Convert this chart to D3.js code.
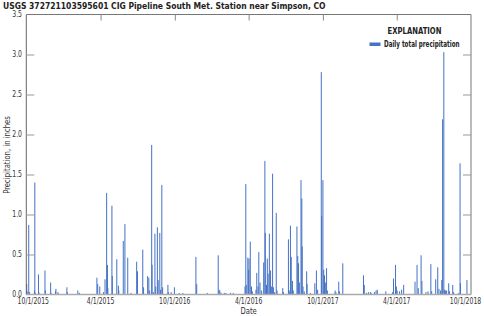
<!DOCTYPE html>
<html>
<head>
<meta charset="utf-8">
<script src="https://cdn.jsdelivr.net/npm/d3@7"></script>
<style>
  body { margin: 0; background: #fff; }
  svg { display: block; font-family: "Liberation Sans Narrow", "DejaVu Sans Condensed", "Arial Narrow", sans-serif; }
</style>
</head>
<body>
<svg id="chart" width="484" height="316"></svg>
<script>
// start of record, bars are placed by day offset from it
var startDate = new Date(2015, 9, 1);
var endDate = new Date(2018, 9, 1);

var dayOffset = [
  1, 2, 6, 8, 20, 21, 22, 30, 31, 46, 47, 60, 61, 72, 73, 78, 100, 101, 127, 131,
  174, 176, 181, 190, 194, 198, 200, 201, 211, 212, 223, 227, 228, 239, 243, 250, 258,
  272, 274, 287, 289, 299, 302, 304, 309, 310, 313, 317, 319, 323, 325, 329, 331, 334,
  336, 349, 350, 357, 365, 377, 386, 418, 420, 446, 473, 475, 477, 480, 488, 492, 503,
  510, 539, 541, 542, 546, 548, 549, 552, 555, 557, 566, 568, 571, 573, 576, 580, 585,
  588, 589, 592, 594, 596, 599, 602, 604, 607, 609, 612, 616, 618, 632, 634, 646, 648,
  651, 653, 656, 658, 667, 669, 671, 673, 677, 679, 680, 682, 685, 691, 692, 700, 711,
  715, 718, 727, 728, 731, 733, 735, 737, 740, 742, 761, 763, 770, 772, 780, 831, 833,
  838, 843, 848, 850, 858, 862, 865, 886, 903, 905, 910, 912, 914, 920, 925, 930, 958,
  963, 966, 973, 975, 985, 990, 997, 999, 1009, 1014, 1017, 1021, 1024, 1026, 1029, 1031,
  1033, 1036, 1041, 1043, 1051, 1053, 1066, 1069, 1070, 1086
];

var precip = [
  0.13, 0.04, 0.87, 0.03, 0.05, 1.40, 0.02, 0.25, 0.03, 0.30, 0.05, 0.15, 0.02, 0.04, 0.07, 0.03, 0.09, 0.03, 0.05, 0.02,
  0.21, 0.13, 0.10, 0.03, 0.19, 1.27, 0.37, 0.08, 1.11, 0.23, 0.44, 0.11, 0.05, 0.67, 0.88, 0.46, 0.02,
  0.41, 0.29, 0.56, 0.09, 0.23, 0.21, 0.05, 1.87, 0.37, 0.03, 0.76, 0.10, 0.84, 0.18, 0.77, 0.06, 1.37,
  0.09, 0.12, 0.03, 0.03, 0.09, 0.02, 0.02, 0.47, 0.13, 0.02, 0.49, 0.06, 0.05, 0.02, 0.02, 0.02, 0.02,
  0.02, 0.10, 1.38, 0.12, 0.46, 0.31, 0.45, 0.66, 0.10, 0.04, 0.06, 0.27, 0.10, 0.53, 0.15, 0.05, 0.40,
  1.67, 0.77, 0.12, 0.45, 0.26, 0.76, 0.30, 0.10, 1.51, 0.09, 0.03, 1.02, 0.05, 0.08, 0.03, 0.69, 0.05,
  0.86, 0.47, 0.17, 0.05, 0.85, 0.48, 0.39, 0.15, 1.43, 1.20, 0.60, 0.10, 0.04, 0.29, 0.13, 0.02, 0.14,
  0.30, 0.06, 2.78, 0.98, 1.43, 0.31, 0.24, 0.15, 0.33, 0.05, 0.05, 0.03, 0.16, 0.04, 0.39, 0.24, 0.12,
  0.02, 0.03, 0.03, 0.02, 0.03, 0.05, 0.06, 0.04, 0.03, 0.20, 0.37, 0.10, 0.05, 0.04, 0.06, 0.12, 0.16,
  0.37, 0.08, 0.49, 0.17, 0.03, 0.04, 0.38, 0.04, 0.19, 0.34, 0.07, 0.05, 0.18, 2.19, 3.03, 0.06,
  0.05, 0.05, 0.14, 0.04, 0.12, 0.03, 0.02, 1.64, 0.14, 0.18
];

// labels as printed on the original figure
var xTickLabels = ["10/1/2015", "4/1/2015", "10/1/2016", "4/1/2016", "10/1/2017", "4/1/2017", "10/1/2018"];
var yTicks = [0, 0.5, 1, 1.5, 2, 2.5, 3, 3.5];

var title = "USGS 372721103595601 CIG Pipeline South Met. Station near Simpson, CO";
var legendTitle = "EXPLANATION";
var legendLabel = "Daily total precipitation";

var svg = d3.select('#chart');
var plotL = 26.3, plotR = 471, plotT = 14.5, plotB = 294.5;
var barColor = '#4472c4';

var x = d3.scaleTime().domain([startDate, endDate]).range([plotL, plotR]);
var y = d3.scaleLinear().domain([0, 3.5]).range([plotB, plotT]);

var data = dayOffset.map(function (d, i) {
    return { date: d3.timeDay.offset(startDate, d), value: precip[i] };
});

var xTicks = d3.range(7).map(function (i) {
    return d3.timeMonth.offset(startDate, i * 6);
});

// squeeze text to look like the narrow font of the original
function narrow(sel, k) {
    sel.each(function () {
        var w = this.getComputedTextLength();
        d3.select(this)
            .attr('textLength', w * k)
            .attr('lengthAdjust', 'spacingAndGlyphs');
    });
}

// bars
svg.append('g')
    .selectAll('rect')
    .data(data)
    .enter()
    .append('rect')
    .attr('x', function (d) { return x(d.date) - 0.5; })
    .attr('width', 1)
    .attr('y', function (d) { return y(d.value); })
    .attr('height', function (d) { return y(0) - y(d.value); })
    .attr('fill', barColor);

// frame
svg.append('line').attr('x1', plotL).attr('x2', plotL).attr('y1', plotT).attr('y2', plotB)
    .attr('stroke', '#666');
svg.append('line').attr('x1', plotR).attr('x2', plotR).attr('y1', plotT).attr('y2', plotB)
    .attr('stroke', '#777');
svg.append('line').attr('x1', plotL).attr('x2', plotR).attr('y1', plotT).attr('y2', plotT)
    .attr('stroke', '#777');
svg.append('line').attr('x1', plotL).attr('x2', plotR).attr('y1', plotB).attr('y2', plotB)
    .attr('stroke', '#aaa').attr('stroke-width', 1.6);

// y axis, ticks inside on both sides
var yAxisL = d3.axisRight(y).tickValues(yTicks.slice(1, -1)).tickSize(8).tickFormat('');
var yAxisR = d3.axisLeft(y).tickValues(yTicks.slice(1, -1)).tickSize(8).tickFormat('');
svg.append('g').attr('transform', 'translate(' + plotL + ',0)').call(yAxisL)
    .call(function (g) { g.select('.domain').remove(); })
    .selectAll('line').attr('stroke', '#999');
svg.append('g').attr('transform', 'translate(' + plotR + ',0)').call(yAxisR)
    .call(function (g) { g.select('.domain').remove(); })
    .selectAll('line').attr('stroke', '#999');

svg.append('g')
    .selectAll('text')
    .data(yTicks)
    .enter()
    .append('text')
    .attr('x', 22)
    .attr('y', function (d) { return y(d) + 2.5; })
    .attr('text-anchor', 'end')
    .attr('font-size', 8.5)
    .attr('fill', '#333')
    .text(function (d) { return d3.format('.1f')(d); })
    .call(narrow, 0.8);

// x axis: ticks hang from the top, labels below the bottom
var xAxisTop = d3.axisBottom(x).tickValues(xTicks.slice(1, -1)).tickSize(6).tickFormat('');
svg.append('g').attr('transform', 'translate(0,' + plotT + ')').call(xAxisTop)
    .call(function (g) { g.select('.domain').remove(); })
    .selectAll('line').attr('stroke', '#888');

svg.append('g')
    .selectAll('text')
    .data(xTicks)
    .enter()
    .append('text')
    .attr('x', function (d, i) { return x(d) + (i === 0 ? 7 : i === 6 ? -5.5 : 0); })
    .attr('y', 304)
    .attr('text-anchor', 'middle')
    .attr('font-size', 8.5)
    .attr('fill', '#333')
    .text(function (d, i) { return xTickLabels[i]; })
    .call(narrow, 0.8);

svg.append('text')
    .attr('x', (plotL + plotR) / 2)
    .attr('y', 314)
    .attr('text-anchor', 'middle')
    .attr('font-size', 9.5)
    .attr('fill', '#333')
    .text('Date')
    .call(narrow, 0.8);

svg.append('text')
    .attr('transform', 'translate(10,155) rotate(-90)')
    .attr('text-anchor', 'middle')
    .attr('font-size', 9.5)
    .attr('fill', '#333')
    .text('Precipitation, in inches')
    .call(narrow, 0.8);

// title
svg.append('text')
    .attr('x', 3)
    .attr('y', 9)
    .attr('font-size', 9)
    .attr('font-weight', 'bold')
    .attr('fill', '#222')
    .text(title)
    .call(narrow, 0.94);

// legend
svg.append('text')
    .attr('x', 414.5)
    .attr('y', 34)
    .attr('text-anchor', 'middle')
    .attr('font-size', 9.5)
    .attr('font-weight', 'bold')
    .attr('fill', '#222')
    .text(legendTitle)
    .call(narrow, 0.8);
svg.append('rect')
    .attr('x', 369.5).attr('y', 42.5)
    .attr('width', 11).attr('height', 3.5)
    .attr('fill', barColor);
svg.append('text')
    .attr('x', 384)
    .attr('y', 47)
    .attr('font-size', 8)
    .attr('font-weight', 'bold')
    .attr('fill', '#222')
    .text(legendLabel)
    .call(narrow, 0.78);
</script>
</body>
</html>
